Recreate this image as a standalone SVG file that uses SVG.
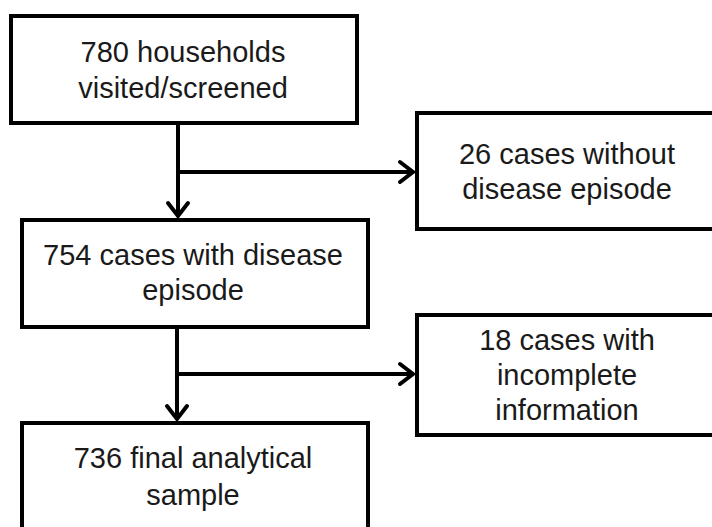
<svg xmlns="http://www.w3.org/2000/svg" width="712" height="527" viewBox="0 0 712 527">
  <style>
    .box { fill: #ffffff; stroke: #000000; stroke-width: 4; }
    .lbl { font-family: "Liberation Sans", Arial, sans-serif; font-size: 29px; fill: #1a1a1a; text-anchor: middle; }
    .conn { fill: none; stroke: #000000; stroke-width: 4; }
    .head { fill: none; stroke: #000000; stroke-width: 4; stroke-linejoin: miter; stroke-linecap: round; }
  </style>
  <rect width="712" height="527" fill="#ffffff"/>
  <g id="connectors">
    <line class="conn" x1="178" y1="123" x2="178" y2="216"/>
    <path class="head" d="M168,203 L178,216 L188,203"/>
    <line class="conn" x1="178" y1="172" x2="413" y2="172"/>
    <path class="head" d="M400,162 L413,172 L400,182"/>
    <line class="conn" x1="177" y1="327" x2="177" y2="419"/>
    <path class="head" d="M167,406 L177,419 L187,406"/>
    <line class="conn" x1="177" y1="374" x2="413" y2="374"/>
    <path class="head" d="M400,364 L413,374 L400,384"/>
  </g>
  <g id="n1">
    <rect class="box" x="11" y="16" width="346" height="107"/>
    <text class="lbl" x="183" y="62">780 households</text>
    <text class="lbl" x="183" y="98">visited/screened</text>
  </g>
  <g id="n2">
    <rect class="box" x="22" y="220" width="346" height="107"/>
    <text class="lbl" x="193" y="265">754 cases with disease</text>
    <text class="lbl" x="193" y="300">episode</text>
  </g>
  <g id="n3">
    <rect class="box" x="417" y="113" width="310" height="116"/>
    <text class="lbl" x="567" y="164">26 cases without</text>
    <text class="lbl" x="567" y="199">disease episode</text>
  </g>
  <g id="n4">
    <rect class="box" x="417" y="315" width="310" height="120"/>
    <text class="lbl" x="567" y="350">18 cases with</text>
    <text class="lbl" x="567" y="385">incomplete</text>
    <text class="lbl" x="567" y="420">information</text>
  </g>
  <g id="n5">
    <rect class="box" x="22" y="423" width="346" height="120"/>
    <text class="lbl" x="193" y="468">736 final analytical</text>
    <text class="lbl" x="193" y="505">sample</text>
  </g>
</svg>
